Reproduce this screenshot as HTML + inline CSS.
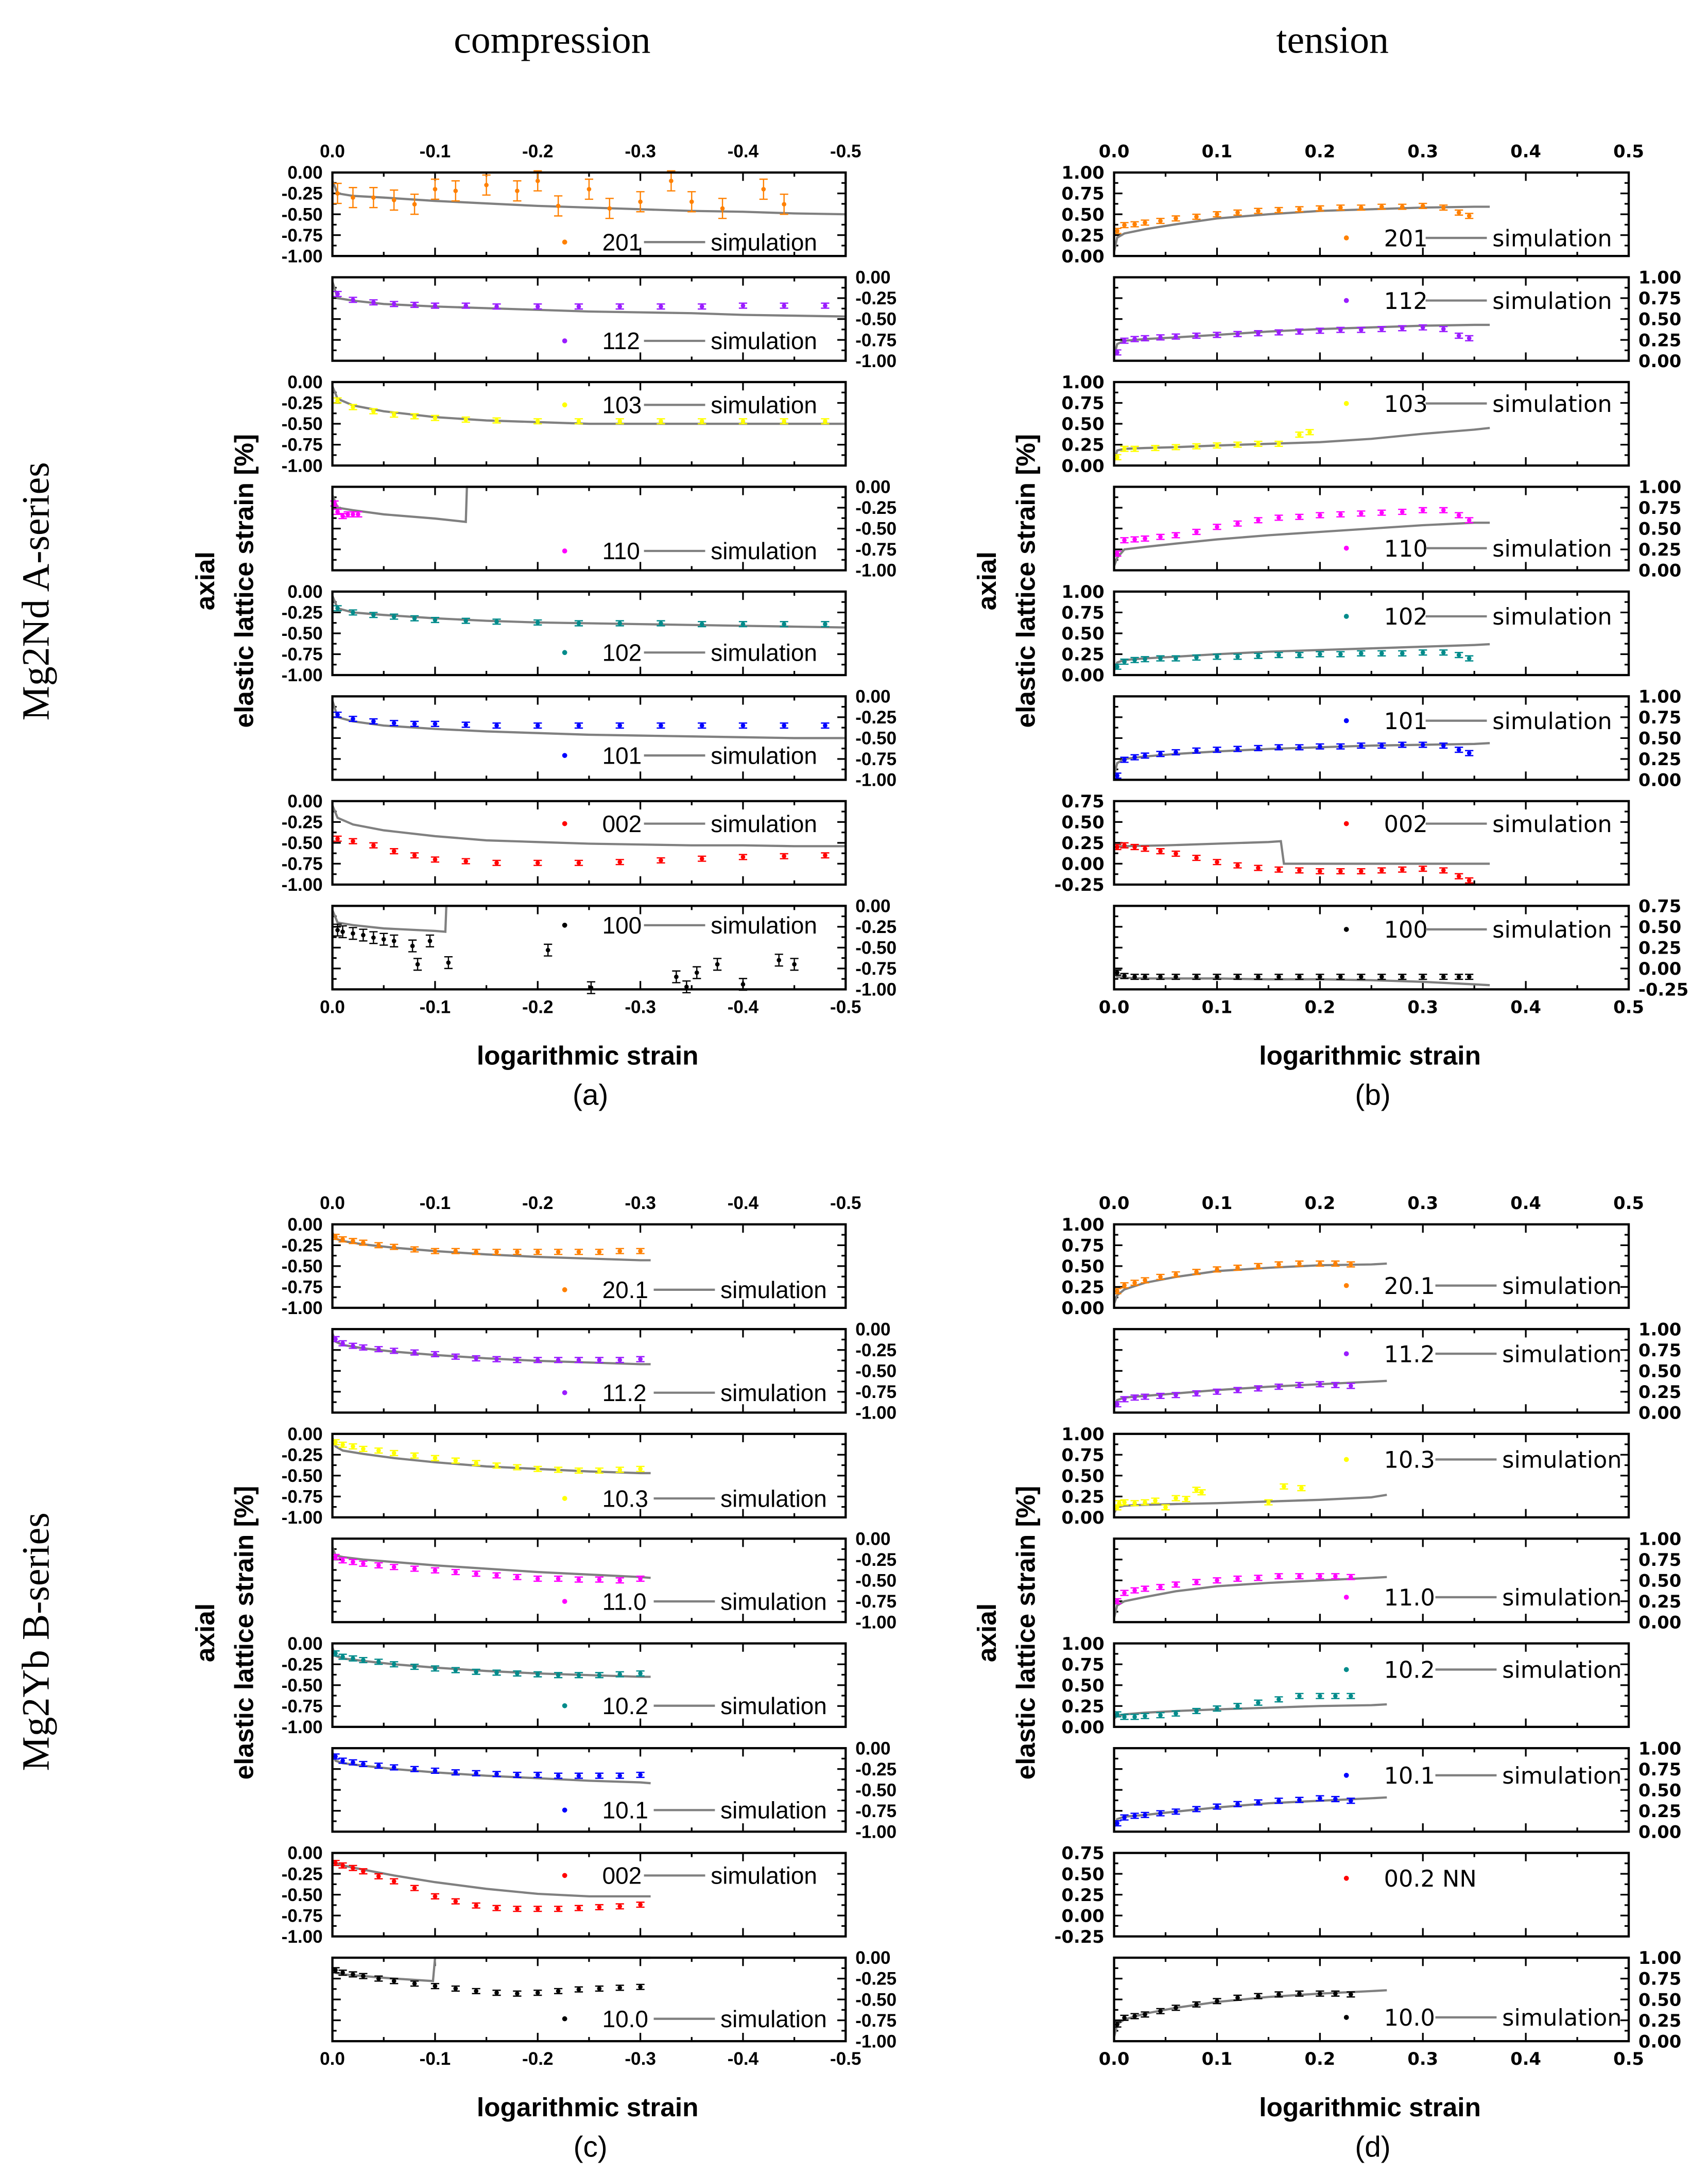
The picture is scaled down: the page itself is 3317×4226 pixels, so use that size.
<!DOCTYPE html>
<html><head><meta charset="utf-8"><style>
html,body{margin:0;padding:0;background:#fff;}
svg{display:block;}
</style></head><body>
<svg id="fig" xmlns="http://www.w3.org/2000/svg" width="3317" height="4226" viewBox="0 0 1228 1564" preserveAspectRatio="none">
<rect x="0" y="0" width="1228" height="1564" fill="#fff"/>
<text x="397" y="38" font-family="Liberation Serif, serif" font-size="28" text-anchor="middle">compression</text>
<text x="958" y="38" font-family="Liberation Serif, serif" font-size="28" text-anchor="middle">tension</text>
<text transform="translate(35,425) rotate(-90)" font-family="Liberation Serif, serif" font-size="28" text-anchor="middle">Mg2Nd A-series</text>
<text transform="translate(35,1180) rotate(-90)" font-family="Liberation Serif, serif" font-size="28" text-anchor="middle">Mg2Yb B-series</text>
<g id="plots"></g>
</svg>
<script>
// ---------- DATA ----------
// panel a (compression, Mg2Nd)
const expXa = [-0.005,-0.02,-0.04,-0.06,-0.08,-0.1,-0.13,-0.16,-0.2,-0.24,-0.28,-0.32,-0.36,-0.4,-0.44,-0.48];
const simXa = [0,-0.005,-0.02,-0.05,-0.1,-0.15,-0.2,-0.25,-0.3,-0.35,-0.4,-0.45,-0.5];
const expX201a = [-0.005,-0.02,-0.04,-0.06,-0.08,-0.1,-0.12,-0.15,-0.18,-0.2,-0.22,-0.25,-0.27,-0.3,-0.33,-0.35,-0.38,-0.42,-0.44];
const expY201a = [-0.25,-0.3,-0.3,-0.33,-0.38,-0.2,-0.22,-0.15,-0.22,-0.1,-0.4,-0.2,-0.43,-0.35,-0.1,-0.35,-0.43,-0.2,-0.38];
const simY201a = [-0.1,-0.25,-0.28,-0.3,-0.34,-0.37,-0.4,-0.42,-0.44,-0.46,-0.47,-0.49,-0.5];
const expY112a = [-0.2,-0.27,-0.3,-0.32,-0.33,-0.34,-0.34,-0.35,-0.35,-0.35,-0.35,-0.35,-0.35,-0.34,-0.34,-0.34];
const simY112a = [-0.05,-0.25,-0.28,-0.32,-0.35,-0.37,-0.39,-0.41,-0.42,-0.43,-0.45,-0.46,-0.47];
const expY103a = [-0.22,-0.3,-0.35,-0.39,-0.41,-0.43,-0.45,-0.46,-0.47,-0.47,-0.47,-0.47,-0.47,-0.47,-0.47,-0.47];
const simY103a = [-0.05,-0.2,-0.28,-0.35,-0.42,-0.46,-0.48,-0.5,-0.5,-0.5,-0.5,-0.5,-0.5];
const expX110a = [-0.002,-0.005,-0.01,-0.015,-0.02,-0.025];
const expY110a = [-0.2,-0.3,-0.35,-0.33,-0.33,-0.33];
const simX110a = [0,-0.005,-0.02,-0.05,-0.1,-0.13,-0.131,-0.5];
const simY110a = [-0.1,-0.25,-0.28,-0.33,-0.38,-0.42,0,0];
const expY102a = [-0.2,-0.25,-0.28,-0.3,-0.32,-0.34,-0.35,-0.36,-0.37,-0.38,-0.38,-0.38,-0.39,-0.39,-0.39,-0.39];
const simY102a = [-0.05,-0.2,-0.25,-0.28,-0.32,-0.35,-0.37,-0.38,-0.39,-0.4,-0.41,-0.42,-0.43];
const expY101a = [-0.22,-0.27,-0.3,-0.32,-0.33,-0.33,-0.34,-0.35,-0.35,-0.35,-0.35,-0.35,-0.35,-0.35,-0.35,-0.35];
const simY101a = [-0.05,-0.25,-0.3,-0.35,-0.39,-0.42,-0.44,-0.46,-0.47,-0.48,-0.49,-0.5,-0.5];
const expY002a = [-0.45,-0.48,-0.53,-0.6,-0.65,-0.7,-0.72,-0.74,-0.74,-0.74,-0.73,-0.71,-0.69,-0.67,-0.66,-0.65];
const simY002a = [-0.05,-0.2,-0.28,-0.35,-0.42,-0.47,-0.49,-0.51,-0.52,-0.53,-0.53,-0.54,-0.54];
const expX100a = [-0.005,-0.01,-0.02,-0.03,-0.04,-0.05,-0.06,-0.078,-0.083,-0.095,-0.113,-0.21,-0.252,-0.335,-0.345,-0.355,-0.375,-0.4,-0.435,-0.45];
const expY100a = [-0.29,-0.31,-0.33,-0.35,-0.38,-0.4,-0.42,-0.48,-0.7,-0.42,-0.68,-0.53,-0.98,-0.85,-0.97,-0.8,-0.7,-0.94,-0.65,-0.7];
const simX100a = [0,-0.005,-0.02,-0.05,-0.1,-0.11,-0.111,-0.5];
const simY100a = [-0.05,-0.2,-0.23,-0.27,-0.3,-0.31,0,0];
// panel b (tension, Mg2Nd)
const expXb = [0.003,0.01,0.02,0.03,0.045,0.06,0.08,0.1,0.12,0.14,0.16,0.18,0.2,0.22,0.24,0.26,0.28,0.3,0.32,0.335,0.345];
const simXb = [0,0.003,0.01,0.03,0.06,0.1,0.15,0.2,0.25,0.3,0.35,0.365];
const expY201b = [0.3,0.37,0.38,0.4,0.42,0.45,0.47,0.5,0.52,0.54,0.55,0.56,0.57,0.58,0.58,0.59,0.59,0.6,0.58,0.52,0.48];
const simY201b = [0.05,0.22,0.27,0.32,0.38,0.45,0.5,0.54,0.56,0.58,0.59,0.59];
const expY112b = [0.1,0.24,0.26,0.27,0.28,0.29,0.3,0.31,0.32,0.33,0.34,0.35,0.36,0.37,0.37,0.38,0.39,0.4,0.38,0.3,0.27];
const simY112b = [0.05,0.2,0.24,0.26,0.28,0.31,0.35,0.38,0.4,0.42,0.43,0.43];
const expX103b = [0.003,0.01,0.02,0.04,0.06,0.08,0.1,0.12,0.14,0.16,0.18,0.19];
const expY103b = [0.1,0.2,0.2,0.21,0.22,0.23,0.24,0.25,0.26,0.26,0.37,0.4];
const simY103b = [0.05,0.18,0.2,0.21,0.22,0.24,0.26,0.28,0.32,0.38,0.43,0.45];
const expY110b = [0.2,0.36,0.37,0.38,0.4,0.42,0.46,0.52,0.56,0.6,0.63,0.64,0.66,0.67,0.68,0.69,0.7,0.72,0.72,0.66,0.6];
const simY110b = [0.05,0.15,0.25,0.28,0.32,0.37,0.42,0.46,0.5,0.54,0.57,0.57];
const expY102b = [0.1,0.16,0.18,0.19,0.2,0.2,0.21,0.22,0.22,0.23,0.24,0.24,0.25,0.25,0.26,0.26,0.26,0.27,0.27,0.24,0.2];
const simY102b = [0.05,0.15,0.18,0.2,0.22,0.25,0.28,0.3,0.32,0.34,0.36,0.37];
const expY101b = [0.05,0.24,0.27,0.29,0.31,0.33,0.35,0.36,0.37,0.38,0.39,0.39,0.4,0.4,0.41,0.41,0.42,0.42,0.41,0.36,0.32];
const simY101b = [0.05,0.2,0.25,0.28,0.31,0.34,0.37,0.39,0.41,0.42,0.43,0.44];
const expY002b = [0.2,0.22,0.2,0.18,0.15,0.12,0.07,0.02,-0.02,-0.05,-0.07,-0.08,-0.09,-0.09,-0.09,-0.08,-0.07,-0.06,-0.08,-0.15,-0.2];
const simX002b = [0,0.01,0.05,0.1,0.15,0.162,0.165,0.2,0.3,0.365];
const simY002b = [0.2,0.21,0.22,0.24,0.26,0.27,0,0,0,0];
const expY100b = [-0.05,-0.09,-0.1,-0.1,-0.1,-0.1,-0.1,-0.1,-0.1,-0.1,-0.1,-0.1,-0.1,-0.1,-0.1,-0.1,-0.1,-0.1,-0.1,-0.1,-0.1];
const simY100b = [0,-0.1,-0.11,-0.12,-0.12,-0.12,-0.13,-0.13,-0.14,-0.16,-0.19,-0.2];
// panel c (compression, Mg2Yb)
const expXc = [-0.003,-0.01,-0.02,-0.03,-0.045,-0.06,-0.08,-0.1,-0.12,-0.14,-0.16,-0.18,-0.2,-0.22,-0.24,-0.26,-0.28,-0.3];
const simXc = [0,-0.003,-0.01,-0.03,-0.06,-0.1,-0.15,-0.2,-0.25,-0.3,-0.31];
const expY201c = [-0.15,-0.18,-0.2,-0.22,-0.25,-0.27,-0.3,-0.32,-0.32,-0.33,-0.33,-0.33,-0.33,-0.33,-0.33,-0.33,-0.32,-0.32];
const simY201c = [-0.1,-0.17,-0.2,-0.24,-0.28,-0.32,-0.36,-0.39,-0.41,-0.43,-0.43];
const expY112c = [-0.12,-0.17,-0.2,-0.22,-0.24,-0.26,-0.28,-0.3,-0.33,-0.35,-0.36,-0.37,-0.37,-0.37,-0.37,-0.37,-0.37,-0.36];
const simY112c = [-0.05,-0.15,-0.19,-0.23,-0.27,-0.31,-0.35,-0.38,-0.4,-0.42,-0.42];
const expY103c = [-0.1,-0.13,-0.15,-0.18,-0.2,-0.23,-0.26,-0.29,-0.32,-0.35,-0.38,-0.4,-0.42,-0.43,-0.44,-0.44,-0.43,-0.42];
const simY103c = [-0.05,-0.15,-0.2,-0.24,-0.29,-0.34,-0.39,-0.42,-0.45,-0.47,-0.47];
const expY110c = [-0.22,-0.26,-0.28,-0.3,-0.32,-0.34,-0.36,-0.38,-0.4,-0.42,-0.44,-0.46,-0.48,-0.48,-0.49,-0.49,-0.5,-0.48];
const simY110c = [-0.1,-0.2,-0.22,-0.25,-0.28,-0.32,-0.36,-0.4,-0.43,-0.46,-0.47];
const expY102c = [-0.12,-0.16,-0.18,-0.2,-0.22,-0.25,-0.28,-0.3,-0.32,-0.34,-0.35,-0.36,-0.37,-0.38,-0.38,-0.38,-0.37,-0.36];
const simY102c = [-0.05,-0.15,-0.18,-0.21,-0.25,-0.29,-0.33,-0.36,-0.38,-0.4,-0.4];
const expY101c = [-0.1,-0.15,-0.17,-0.19,-0.21,-0.23,-0.25,-0.27,-0.29,-0.3,-0.31,-0.32,-0.32,-0.33,-0.33,-0.33,-0.33,-0.32];
const simY101c = [-0.05,-0.15,-0.18,-0.21,-0.25,-0.29,-0.33,-0.36,-0.39,-0.41,-0.42];
const expY002c = [-0.12,-0.15,-0.18,-0.22,-0.28,-0.34,-0.42,-0.52,-0.58,-0.63,-0.66,-0.67,-0.67,-0.67,-0.66,-0.65,-0.64,-0.62];
const simY002c = [-0.1,-0.12,-0.15,-0.2,-0.27,-0.35,-0.43,-0.49,-0.52,-0.52,-0.52];
const expY100c = [-0.15,-0.18,-0.2,-0.22,-0.25,-0.28,-0.31,-0.34,-0.37,-0.4,-0.42,-0.43,-0.42,-0.4,-0.38,-0.37,-0.36,-0.35];
const simX100c = [0,-0.003,-0.01,-0.03,-0.06,-0.098,-0.1,-0.31];
const simY100c = [-0.15,-0.18,-0.2,-0.22,-0.25,-0.28,0,0];
// panel d (tension, Mg2Yb)
const expXd = [0.003,0.01,0.02,0.03,0.045,0.06,0.08,0.1,0.12,0.14,0.16,0.18,0.2,0.215,0.23];
const simXd = [0,0.003,0.01,0.03,0.06,0.1,0.15,0.2,0.25,0.265];
const expY201d = [0.2,0.27,0.3,0.33,0.37,0.4,0.43,0.46,0.48,0.5,0.52,0.53,0.53,0.53,0.52];
const simY201d = [0.05,0.15,0.22,0.3,0.37,0.44,0.48,0.51,0.52,0.53];
const expY112d = [0.1,0.16,0.18,0.19,0.2,0.21,0.23,0.25,0.27,0.29,0.31,0.33,0.34,0.33,0.32];
const simY112d = [0.05,0.15,0.18,0.2,0.23,0.27,0.31,0.34,0.37,0.38];
const expX103d = [0.003,0.005,0.01,0.02,0.03,0.04,0.05,0.06,0.07,0.08,0.085,0.15,0.165,0.182];
const expY103d = [0.12,0.17,0.18,0.17,0.18,0.2,0.12,0.23,0.22,0.33,0.3,0.18,0.37,0.35];
const simY103d = [0.05,0.12,0.14,0.15,0.16,0.17,0.19,0.21,0.24,0.27];
const expY110d = [0.25,0.35,0.38,0.4,0.42,0.45,0.48,0.5,0.52,0.53,0.55,0.55,0.55,0.55,0.54];
const simY110d = [0.05,0.2,0.25,0.3,0.37,0.43,0.47,0.5,0.53,0.54];
const expY102d = [0.15,0.12,0.12,0.13,0.14,0.16,0.19,0.22,0.25,0.29,0.33,0.37,0.37,0.37,0.37];
const simY102d = [0.1,0.13,0.15,0.17,0.19,0.21,0.23,0.25,0.26,0.27];
const expY101d = [0.1,0.17,0.19,0.2,0.22,0.24,0.27,0.3,0.33,0.35,0.37,0.38,0.4,0.39,0.37];
const simY101d = [0.05,0.15,0.18,0.2,0.24,0.29,0.34,0.37,0.4,0.41];
const expY100d = [0.2,0.28,0.3,0.32,0.36,0.4,0.44,0.48,0.52,0.54,0.56,0.57,0.57,0.57,0.56];
const simY100d = [0.05,0.2,0.26,0.33,0.4,0.47,0.53,0.57,0.6,0.61];
// tick labels
const xTicksComp = [0,-0.1,-0.2,-0.3,-0.4,-0.5];
const xTickLabelsComp = ["0.0","-0.1","-0.2","-0.3","-0.4","-0.5"];
const xTicksTens = [0,0.1,0.2,0.3,0.4,0.5];
const xTickLabelsTens = ["0.0","0.1","0.2","0.3","0.4","0.5"];
const yTicksComp = [0,-0.25,-0.5,-0.75,-1];
const yTickLabelsComp = ["0.00","-0.25","-0.50","-0.75","-1.00"];
const yTicksTens = [1,0.75,0.5,0.25,0];
const yTickLabelsTens = ["1.00","0.75","0.50","0.25","0.00"];
const yTicksShift = [0.75,0.5,0.25,0,-0.25];
const yTickLabelsShift = ["0.75","0.50","0.25","0.00","-0.25"];

// ---------- LAYOUT ----------
const NS = "http://www.w3.org/2000/svg";
const root = document.getElementById('plots');
function mk(tag, attrs, parent){ const e=document.createElementNS(NS,tag); for(const k in attrs) e.setAttribute(k,attrs[k]); (parent||root).appendChild(e); return e; }
const C = {orange:"#ff8000",violet:"#9a1cff",yellow:"#ffff00",magenta:"#ff00ff",teal:"#008b8b",blue:"#0000ff",red:"#ff0000",black:"#000"};

const panels = [
 {id:'a', x0:239, x1:608, top:124, xmax:-0.5, xt:xTicksComp, xl:xTickLabelsComp, font:"Liberation Sans, sans-serif", lx:406, rows:[
  {lab:'201', col:C.orange, ex:expX201a, ey:expY201a, sx:simXa, sy:simY201a, ly:174, err:0.12},
  {lab:'112', col:C.violet, ex:expXa, ey:expY112a, sx:simXa, sy:simY112a, ly:245},
  {lab:'103', col:C.yellow, ex:expXa, ey:expY103a, sx:simXa, sy:simY103a, ly:291},
  {lab:'110', col:C.magenta, ex:expX110a, ey:expY110a, sx:simX110a, sy:simY110a, ly:396},
  {lab:'102', col:C.teal, ex:expXa, ey:expY102a, sx:simXa, sy:simY102a, ly:469},
  {lab:'101', col:C.blue, ex:expXa, ey:expY101a, sx:simXa, sy:simY101a, ly:543},
  {lab:'002', col:C.red, ex:expXa, ey:expY002a, sx:simXa, sy:simY002a, ly:592},
  {lab:'100', col:C.black, ex:expX100a, ey:expY100a, sx:simX100a, sy:simY100a, ly:665, err:0.07}]},
 {id:'b', x0:801, x1:1171, top:124, xmax:0.5, xt:xTicksTens, xl:xTickLabelsTens, font:"DejaVu Sans, sans-serif", lx:968, rows:[
  {lab:'201', col:C.orange, ex:expXb, ey:expY201b, sx:simXb, sy:simY201b, ly:171},
  {lab:'112', col:C.violet, ex:expXb, ey:expY112b, sx:simXb, sy:simY112b, ly:216},
  {lab:'103', col:C.yellow, ex:expX103b, ey:expY103b, sx:simXb, sy:simY103b, ly:290},
  {lab:'110', col:C.magenta, ex:expXb, ey:expY110b, sx:simXb, sy:simY110b, ly:394},
  {lab:'102', col:C.teal, ex:expXb, ey:expY102b, sx:simXb, sy:simY102b, ly:443},
  {lab:'101', col:C.blue, ex:expXb, ey:expY101b, sx:simXb, sy:simY101b, ly:518},
  {lab:'002', col:C.red, ex:expXb, ey:expY002b, sx:simX002b, sy:simY002b, ly:592, shift:true},
  {lab:'100', col:C.black, ex:expXb, ey:expY100b, sx:simXb, sy:simY100b, ly:668, shift:true}]},
 {id:'c', x0:239, x1:608, top:880, xmax:-0.5, xt:xTicksComp, xl:xTickLabelsComp, font:"Liberation Sans, sans-serif", lx:406, rows:[
  {lab:'20.1', col:C.orange, ex:expXc, ey:expY201c, sx:simXc, sy:simY201c, ly:927},
  {lab:'11.2', col:C.violet, ex:expXc, ey:expY112c, sx:simXc, sy:simY112c, ly:1001},
  {lab:'10.3', col:C.yellow, ex:expXc, ey:expY103c, sx:simXc, sy:simY103c, ly:1077},
  {lab:'11.0', col:C.magenta, ex:expXc, ey:expY110c, sx:simXc, sy:simY110c, ly:1151},
  {lab:'10.2', col:C.teal, ex:expXc, ey:expY102c, sx:simXc, sy:simY102c, ly:1226},
  {lab:'10.1', col:C.blue, ex:expXc, ey:expY101c, sx:simXc, sy:simY101c, ly:1301},
  {lab:'002', col:C.red, ex:expXc, ey:expY002c, sx:simXc, sy:simY002c, ly:1348},
  {lab:'10.0', col:C.black, ex:expXc, ey:expY100c, sx:simX100c, sy:simY100c, ly:1451}]},
 {id:'d', x0:801, x1:1171, top:880, xmax:0.5, xt:xTicksTens, xl:xTickLabelsTens, font:"DejaVu Sans, sans-serif", lx:968, rows:[
  {lab:'20.1', col:C.orange, ex:expXd, ey:expY201d, sx:simXd, sy:simY201d, ly:924},
  {lab:'11.2', col:C.violet, ex:expXd, ey:expY112d, sx:simXd, sy:simY112d, ly:973},
  {lab:'10.3', col:C.yellow, ex:expX103d, ey:expY103d, sx:simXd, sy:simY103d, ly:1049},
  {lab:'11.0', col:C.magenta, ex:expXd, ey:expY110d, sx:simXd, sy:simY110d, ly:1148},
  {lab:'10.2', col:C.teal, ex:expXd, ey:expY102d, sx:simXd, sy:simY102d, ly:1200},
  {lab:'10.1', col:C.blue, ex:expXd, ey:expY101d, sx:simXd, sy:simY101d, ly:1276},
  {lab:'00.2 NN', col:C.red, ex:[], ey:[], sx:[], sy:[], ly:1350, shift:true, nosim:true},
  {lab:'10.0', col:C.black, ex:expXd, ey:expY100d, sx:simXd, sy:simY100d, ly:1450}]}
];
const ROWSTEP = 75.3, ROWH = 60;

panels.forEach(p=>{
  const comp = p.xmax<0;
  const g = mk('g',{});
  
  
  const X = v => p.x0 + (v/p.xmax)*(p.x1-p.x0);
  p.rows.forEach((r,i)=>{
    const top = p.top + i*ROWSTEP, bot = top+ROWH;
    let yTop, yBot, yt, yl;
    if(comp){ yTop=0; yBot=-1; yt=yTicksComp; yl=yTickLabelsComp; }
    else if(r.shift){ yTop=0.75; yBot=-0.25; yt=yTicksShift; yl=yTickLabelsShift; }
    else { yTop=1; yBot=0; yt=yTicksTens; yl=yTickLabelsTens; }
    const Y = v => top + (yTop-v)/(yTop-yBot)*ROWH;
    const sg = mk('g',{},g);
    
    
    for(let k=0;k<=10;k++){
      const xv = p.xmax*k/10, xx = X(xv), len = k%2===0?6:3;
      mk('line',{x1:xx,x2:xx,y1:top,y2:top+len,stroke:'#000','stroke-width':1.2},sg);
      mk('line',{x1:xx,x2:xx,y1:bot,y2:bot-len,stroke:'#000','stroke-width':1.2},sg);
    }
    for(let k=0;k<=8;k++){
      const yv = yTop-(yTop-yBot)*k/8, yy=Y(yv), len = k%2===0?6:3;
      mk('line',{x1:p.x0,x2:p.x0+len,y1:yy,y2:yy,stroke:'#000','stroke-width':1.2},sg);
      mk('line',{x1:p.x1,x2:p.x1-len,y1:yy,y2:yy,stroke:'#000','stroke-width':1.2},sg);
    }
    const left = (i%2===0);
    yt.forEach((v,k)=>{
      const t = mk('text',{x: left? p.x0-7 : p.x1+7, y: Y(v)+4.5, 'text-anchor': left?'end':'start', 'font-family':p.font, 'font-weight':'bold', 'font-size': comp?13:12.5},sg);
      
      
      t.textContent = yl[k];
    });
    if(r.sx.length){
      const d = r.sx.map((v,k)=>(k?'L':'M')+X(v).toFixed(1)+' '+Y(r.sy[k]).toFixed(1)).join(' ');
      const sl = mk('path',{d:d,fill:'none',stroke:'#808080','stroke-width':1.6},sg);
      
      
    }
    const er = r.err || 0.03;
    r.ex.forEach((v,k)=>{
      const cx = X(v), cy = Y(r.ey[k]);
      const eh = er/(yTop-yBot)*ROWH;
      const pg = mk('g',{},sg);
      
      
      mk('line',{x1:cx,x2:cx,y1:cy-eh,y2:cy+eh,stroke:r.col,'stroke-width':0.9},pg);
      mk('line',{x1:cx-3,x2:cx+3,y1:cy-eh,y2:cy-eh,stroke:r.col,'stroke-width':0.9},pg);
      mk('line',{x1:cx-3,x2:cx+3,y1:cy+eh,y2:cy+eh,stroke:r.col,'stroke-width':0.9},pg);
      mk('circle',{cx:cx,cy:cy,r:1.6,fill:r.col},pg);
    });
    const fr = mk('rect',{x:p.x0,y:top,width:p.x1-p.x0,height:ROWH,fill:'none',stroke:'#000','stroke-width':1.6},sg);
    
    
    const lg = mk('g',{},sg);
    
    
    mk('circle',{cx:p.lx,cy:r.ly,r:1.8,fill:r.col},lg);
    const fs = comp?17:16.5;
    const lt = mk('text',{x:p.lx+27,y:r.ly+6,'font-family':p.font,'font-size':fs},lg);
    
    
    lt.textContent = r.lab;
    if(!r.nosim){
      const lx2 = p.lx + (r.lab.length>3? 64:57);
      mk('line',{x1:lx2,x2:lx2+44,y1:r.ly,y2:r.ly,stroke:'#808080','stroke-width':1.6},lg);
      const st = mk('text',{x:lx2+48,y:r.ly+6,'font-family':p.font,'font-size':fs},lg);
      
      
      st.textContent = 'simulation';
    }
  });
  const lastBot = p.top + 7*ROWSTEP + ROWH;
  p.xt.forEach((v,k)=>{
    [p.top-11, lastBot+17].forEach(yy=>{
      const t = mk('text',{x:X(v),y:yy,'text-anchor':'middle','font-family':p.font,'font-weight':'bold','font-size':comp?13:12.5},g);
      
      
      t.textContent = p.xl[k];
    });
  });
  const cx = (p.x0+p.x1)/2;
  const xt = mk('text',{x:cx-1,y:lastBot+54,'text-anchor':'middle','font-family':'Liberation Sans, sans-serif','font-weight':'bold','font-size':19},g);
  
  
  xt.textContent = 'logarithmic strain';
  const pl = mk('text',{x:cx+1,y:lastBot+83,'text-anchor':'middle','font-family':'Liberation Sans, sans-serif','font-size':21},g);
  
  
  pl.textContent = '('+p.id+')';
  const ymid = p.top + (7*ROWSTEP+ROWH)/2;
  const ax = p.x0 - 85;
  const t1 = mk('text',{transform:`translate(${ax},${ymid}) rotate(-90)`,'text-anchor':'middle','font-family':'Liberation Sans, sans-serif','font-weight':'bold','font-size':19},g);
  
  
  t1.textContent='axial';
  const t2 = mk('text',{transform:`translate(${ax+28},${ymid}) rotate(-90)`,'text-anchor':'middle','font-family':'Liberation Sans, sans-serif','font-weight':'bold','font-size':19},g);
  
  
  t2.textContent='elastic lattice strain [%]';
});
</script>
</body></html>
